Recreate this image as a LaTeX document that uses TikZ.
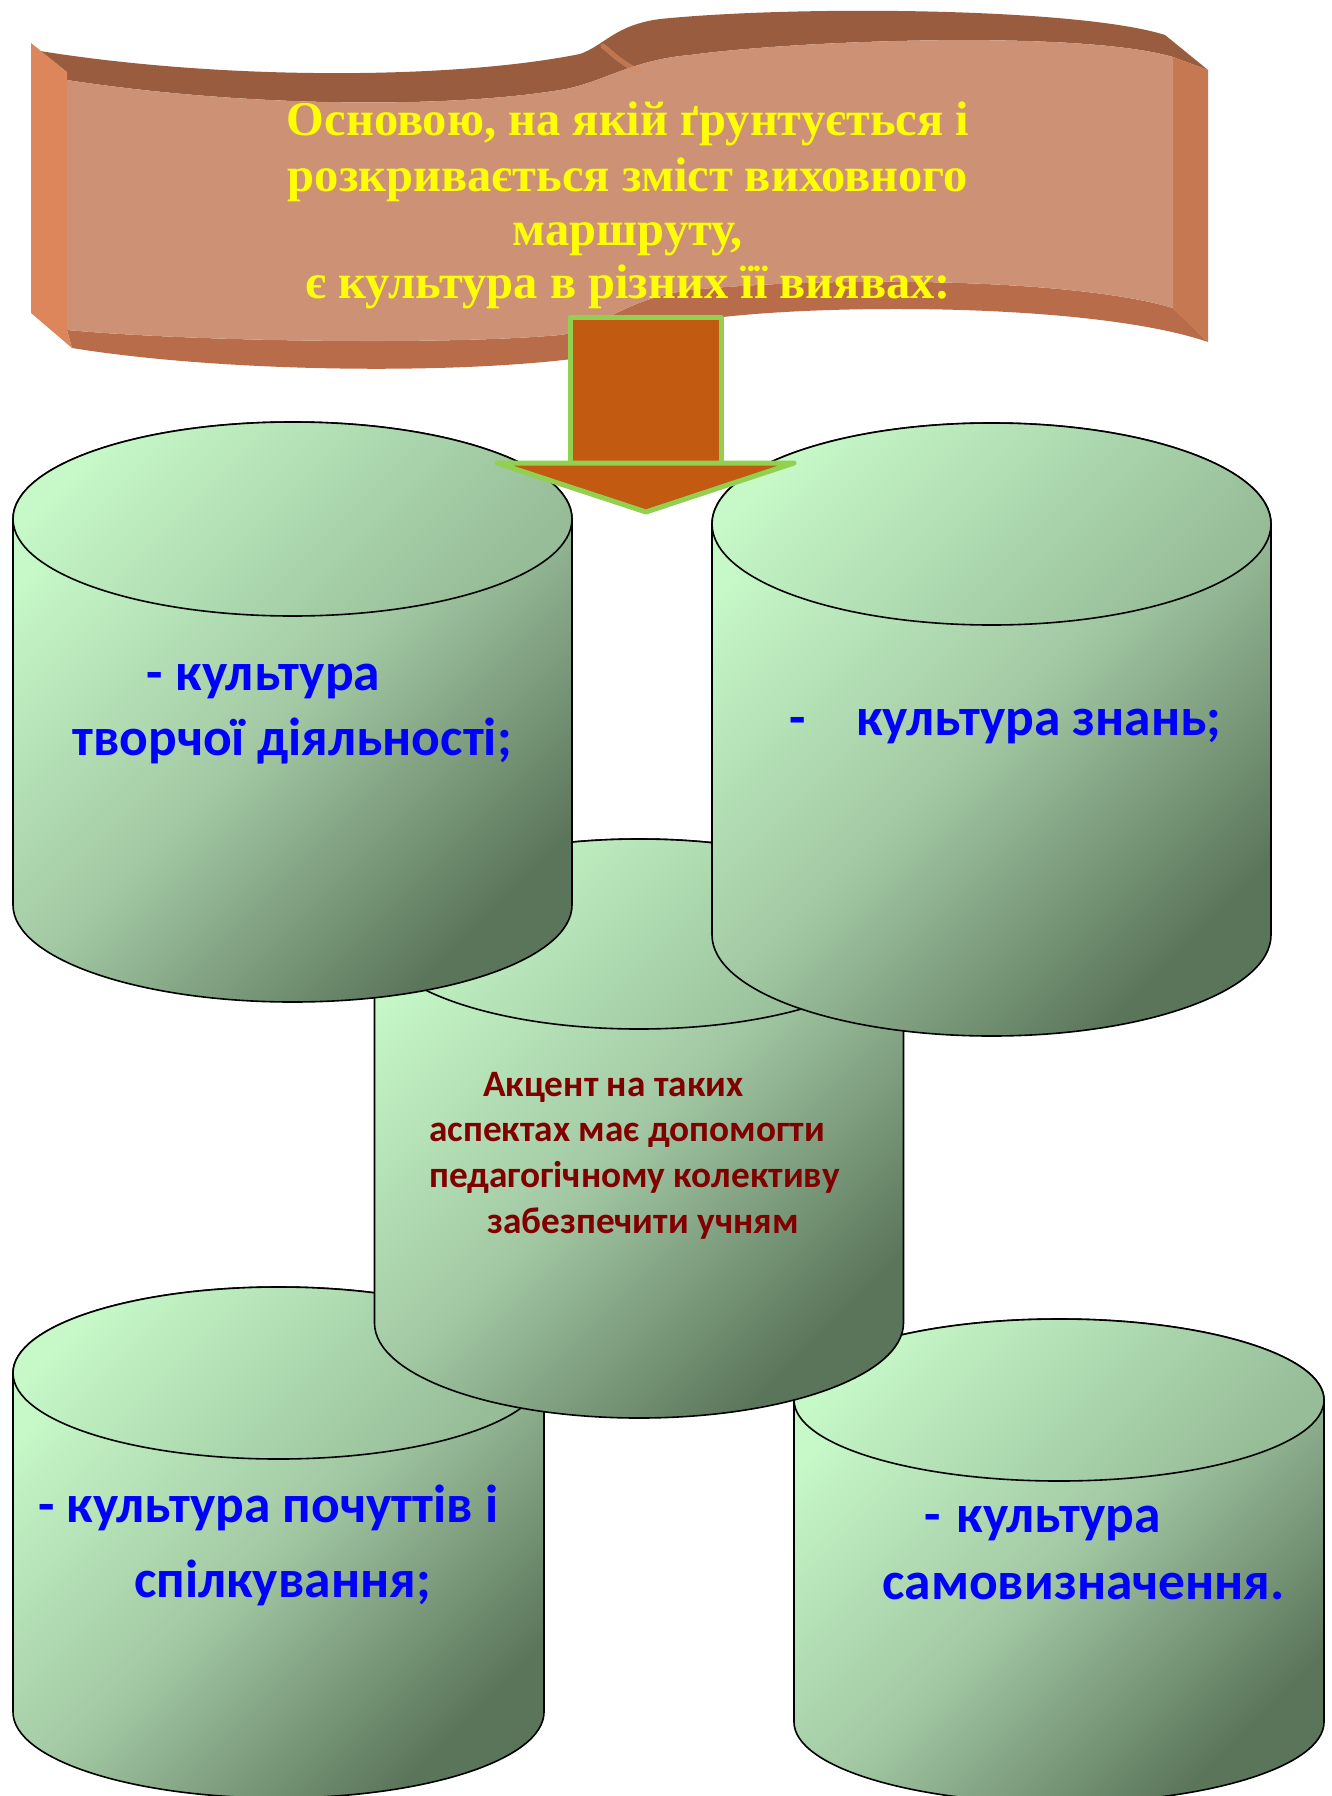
\documentclass[tikz,border=0pt]{standalone}
\usepackage{fontspec}
\setmainfont{Carlito}
\newfontfamily\serifT{Liberation Serif}
\definecolor{bFront}{HTML}{CD9275}
\definecolor{bTop}{HTML}{9A5C3E}
\definecolor{bBot}{HTML}{B96C49}
\definecolor{bSideL}{HTML}{DE865B}
\definecolor{bSideR}{HTML}{C67852}
\definecolor{bFold}{HTML}{D98A5E}
\definecolor{cylLight}{HTML}{C6F8C8}
\definecolor{cylMid}{HTML}{A2C8A3}
\definecolor{cylDark}{HTML}{5B755B}
\definecolor{cylTopDark}{HTML}{96BC98}
\definecolor{arFill}{HTML}{C25A12}
\definecolor{arLine}{HTML}{92D050}
\definecolor{txtRed}{HTML}{800000}
\definecolor{txtYel}{HTML}{FFFF00}
\definecolor{txtBlue}{HTML}{0000FF}
\newcommand\mycylinder[6]{% name, cx, rx, ytop, ybot, ry
  \path[cylbody] ({#2-#3},#4) -- ({#2-#3},#5)
     arc[start angle=180,end angle=0,x radius=#3,y radius=#6]
     -- ({#2+#3},#4)
     arc[start angle=0,end angle=-180,x radius=#3,y radius=#6] -- cycle;
  \path[cyltop] (#2,#4) ellipse [x radius=#3, y radius=#6];
  \coordinate (#1) at (#2,{(#4+#5)/2});
}
\begin{document}
\begin{tikzpicture}[x=1pt,y=-1pt,
  cylbody/.style={draw=black, line width=1.6pt, top color=cylLight, bottom color=cylDark, middle color=cylMid, shading angle=45},
  cyltop/.style={draw=black, line width=1.6pt, top color=cylLight, bottom color=cylTopDark, shading angle=45},
  bluetxt/.style={text=txtBlue, font=\bfseries\fontsize{53.5}{64}\selectfont, anchor=base west, inner sep=0pt},
  redtxt/.style={text=txtRed, font=\bfseries\fontsize{37.3}{44}\selectfont, anchor=base west, inner sep=0pt},
  titletxt/.style={text=txtYel, font=\serifT\bfseries\fontsize{48.5}{55}\selectfont, anchor=base, inner sep=0pt},
  arrowpart/.style={fill=arFill, draw=arLine, line width=5pt, line join=round, line cap=round}
]
\useasboundingbox[fill=white] (0,0) rectangle (1331,1796);

% ---------- banner ----------
% top (back) band
\path[fill=bTop] (40,51) .. controls (220,80) and (450,80) .. (580,54)
   .. controls (605,45) and (615,25) .. (660,19)
   .. controls (800,5) and (1080,8) .. (1165,35)
   -- (1208,70) -- (1173,57)
   .. controls (1080,30) and (800,40) .. (690,55)
   .. controls (630,60) and (600,84) .. (560,90)
   .. controls (450,108) and (250,108) .. (67,80) -- (67,72) -- cycle;
% bottom band
\path[fill=bBot] (67,330) .. controls (200,342) and (450,345) .. (560,335)
   .. controls (600,330) and (620,300) .. (690,290)
   .. controls (850,275) and (1080,280) .. (1173,308)
   -- (1208,342)
   .. controls (1100,305) and (850,303) .. (723,317)
   .. controls (650,325) and (620,350) .. (580,358)
   .. controls (450,375) and (220,372) .. (72,348) -- cycle;
% side faces
\path[fill=bSideL] (31,43) -- (67,72) -- (67,330) -- (72,348) -- (31,313) -- cycle;
\path[fill=bSideR] (1173,57) -- (1208,70) -- (1208,342) -- (1173,308) -- cycle;
% front face
\path[fill=bFront] (67,80) .. controls (250,108) and (450,108) .. (560,90)
   .. controls (600,84) and (630,60) .. (690,55)
   .. controls (800,40) and (1080,30) .. (1173,57)
   -- (1173,308)
   .. controls (1080,280) and (850,275) .. (690,290)
   .. controls (620,300) and (600,330) .. (560,335)
   .. controls (450,345) and (200,342) .. (67,330) -- cycle;
\draw[bFold, line width=5pt, opacity=0.6, line cap=round] (603,46) .. controls (615,56) and (625,66) .. (640,71);

\node[titletxt] (t1) at (628,135) {Основою, на якій ґрунтується і};
\node[titletxt] (t2) at (628,191) {розкривається зміст виховного};
\node[titletxt] (t3) at (628,245) {маршруту,};
\node[titletxt] (t4) at (628,298) {є культура в різних її виявах:};

% ---------- cylinders (back to front) ----------
\mycylinder{c4}{278.5}{265.5}{1373}{1712}{86}
\mycylinder{c5}{1059}{265}{1400}{1722}{81}
\mycylinder{c3}{639}{264.5}{934}{1323}{95}
\mycylinder{c1}{292.5}{279.5}{519}{905}{97}
\mycylinder{c2}{991.5}{279.5}{524}{935}{101}

% ---------- arrow ----------
\path[arrowpart] (570,317) rectangle (721,463);
\path[arrowpart] (497,463) -- (794,463) -- (646,512) -- cycle;

% ---------- texts ----------
\node[bluetxt] (a1) at (146,690) {-\hspace{0.25em}культура};
\node[bluetxt] (a2) at (72,755) {творчої діяльності;};
\node[bluetxt] (b1) at (789,735) {-\hspace{0.95em}культура знань;};
\node[redtxt] (r1) at (483,1096) {Акцент на таких};
\node[redtxt] (r2) at (429,1141) {аспектах має допомогти};
\node[redtxt] (r3) at (429,1187) {педагогічному колективу};
\node[redtxt] (r4) at (487,1233) {забезпечити учням};
\node[bluetxt] (d1) at (38,1522) {- культура почуттів і};
\node[bluetxt] (d2) at (134,1597) {спілкування;};
\node[bluetxt] (e1) at (924,1532) {-\hspace{0.3em}культура};
\node[bluetxt] (e2) at (882,1599) {самовизначення.};
\end{tikzpicture}
\end{document}
